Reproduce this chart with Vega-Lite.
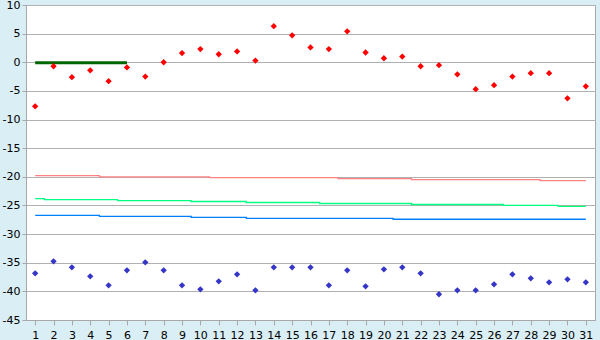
{
  "$schema": "https://vega.github.io/schema/vega-lite/v6.json",
  "autosize": "none",
  "width": 569,
  "height": 315,
  "padding": {"left": 26, "top": 5, "right": 5, "bottom": 20},
  "background": "#d9eef5",
  "config": {
    "view": {"fill": "white", "stroke": "#a8a8a8", "strokeWidth": 1},
    "axis": {"labelFont": "DejaVu Sans", "labelFontSize": 11, "labelColor": "#000000", "domainColor": "#a8a8a8", "tickColor": "#a8a8a8", "title": null, "labelOverlap": false, "labelFlush": false}
  },
  "data": {"values": [
    {"day": 1, "red": -7.7, "blue": -36.85, "pink": -19.8, "green": -23.8, "bl": -26.72, "dg": -0.1},
    {"day": 2, "red": -0.7, "blue": -34.75, "pink": -19.8, "green": -23.97, "bl": -26.72, "dg": -0.1},
    {"day": 3, "red": -2.6, "blue": -35.8, "pink": -19.8, "green": -23.97, "bl": -26.72, "dg": -0.1},
    {"day": 4, "red": -1.4, "blue": -37.37, "pink": -19.8, "green": -23.97, "bl": -26.72, "dg": -0.1},
    {"day": 5, "red": -3.3, "blue": -38.94, "pink": -20.0, "green": -23.97, "bl": -26.9, "dg": -0.1},
    {"day": 6, "red": -0.9, "blue": -36.33, "pink": -20.0, "green": -24.14, "bl": -26.9, "dg": -0.1},
    {"day": 7, "red": -2.5, "blue": -34.93, "pink": -20.0, "green": -24.14, "bl": -26.9},
    {"day": 8, "red": 0.0, "blue": -36.33, "pink": -20.0, "green": -24.14, "bl": -26.9},
    {"day": 9, "red": 1.6, "blue": -38.94, "pink": -20.0, "green": -24.14, "bl": -26.9},
    {"day": 10, "red": 2.3, "blue": -39.64, "pink": -20.0, "green": -24.31, "bl": -27.07},
    {"day": 11, "red": 1.4, "blue": -38.25, "pink": -20.15, "green": -24.31, "bl": -27.07},
    {"day": 12, "red": 1.9, "blue": -37.02, "pink": -20.15, "green": -24.31, "bl": -27.07},
    {"day": 13, "red": 0.3, "blue": -39.82, "pink": -20.15, "green": -24.48, "bl": -27.24},
    {"day": 14, "red": 6.3, "blue": -35.8, "pink": -20.15, "green": -24.48, "bl": -27.24},
    {"day": 15, "red": 4.7, "blue": -35.8, "pink": -20.15, "green": -24.48, "bl": -27.24},
    {"day": 16, "red": 2.6, "blue": -35.8, "pink": -20.15, "green": -24.48, "bl": -27.24},
    {"day": 17, "red": 2.3, "blue": -38.94, "pink": -20.15, "green": -24.66, "bl": -27.24},
    {"day": 18, "red": 5.4, "blue": -36.33, "pink": -20.3, "green": -24.66, "bl": -27.24},
    {"day": 19, "red": 1.7, "blue": -39.12, "pink": -20.3, "green": -24.66, "bl": -27.24},
    {"day": 20, "red": 0.7, "blue": -36.15, "pink": -20.3, "green": -24.66, "bl": -27.24},
    {"day": 21, "red": 1.0, "blue": -35.8, "pink": -20.3, "green": -24.66, "bl": -27.41},
    {"day": 22, "red": -0.7, "blue": -36.85, "pink": -20.5, "green": -24.83, "bl": -27.41},
    {"day": 23, "red": -0.5, "blue": -40.51, "pink": -20.5, "green": -24.83, "bl": -27.41},
    {"day": 24, "red": -2.1, "blue": -39.82, "pink": -20.5, "green": -24.83, "bl": -27.41},
    {"day": 25, "red": -4.7, "blue": -39.82, "pink": -20.5, "green": -24.83, "bl": -27.41},
    {"day": 26, "red": -4.0, "blue": -38.77, "pink": -20.5, "green": -24.83, "bl": -27.41},
    {"day": 27, "red": -2.5, "blue": -37.02, "pink": -20.5, "green": -25.0, "bl": -27.41},
    {"day": 28, "red": -1.9, "blue": -37.72, "pink": -20.5, "green": -25.0, "bl": -27.41},
    {"day": 29, "red": -1.9, "blue": -38.42, "pink": -20.65, "green": -25.0, "bl": -27.41},
    {"day": 30, "red": -6.3, "blue": -37.9, "pink": -20.65, "green": -25.17, "bl": -27.41},
    {"day": 31, "red": -4.2, "blue": -38.42, "pink": -20.65, "green": -25.17, "bl": -27.41}
  ]},
  "encoding": {
    "x": {"field": "day", "type": "ordinal",
      "scale": {"type": "point", "padding": 0.5},
      "axis": {"labelAngle": 0, "tickSize": 5, "labelPadding": 4, "grid": false, "domain": true}}
  },
  "layer": [
    {
      "mark": {"type": "rule", "strokeWidth": 0},
      "encoding": {
        "y": {"field": "red", "type": "quantitative",
          "scale": {"domain": [-45, 10], "nice": false, "zero": false},
          "axis": {"values": [-45, -40, -35, -30, -25, -20, -15, -10, -5, 0, 5, 10], "tickCount": 30, "grid": true, "gridColor": "#b0b0b0", "gridWidth": 1, "tickSize": 4, "labelPadding": 2, "labelExpr": "'' + datum.value"}}
      }
    },
    {
      "mark": {"type": "line", "interpolate": "step", "color": "#ff8080", "strokeWidth": 1.3},
      "encoding": {"y": {"field": "pink", "type": "quantitative"}}
    },
    {
      "mark": {"type": "line", "interpolate": "step", "color": "#00ff80", "strokeWidth": 1.3},
      "encoding": {"y": {"field": "green", "type": "quantitative"}}
    },
    {
      "mark": {"type": "line", "interpolate": "step", "color": "#0080ff", "strokeWidth": 1.3},
      "encoding": {"y": {"field": "bl", "type": "quantitative"}}
    },
    {
      "transform": [{"filter": "isValid(datum.dg)"}],
      "mark": {"type": "line", "color": "#006600", "strokeWidth": 3},
      "encoding": {"y": {"field": "dg", "type": "quantitative"}}
    },
    {
      "mark": {"type": "point", "shape": "diamond", "filled": true, "opacity": 1, "color": "#ff0000", "size": 40},
      "encoding": {"y": {"field": "red", "type": "quantitative"}}
    },
    {
      "mark": {"type": "point", "shape": "diamond", "filled": true, "opacity": 1, "color": "#3535c8", "size": 40},
      "encoding": {"y": {"field": "blue", "type": "quantitative"}}
    }
  ]
}
